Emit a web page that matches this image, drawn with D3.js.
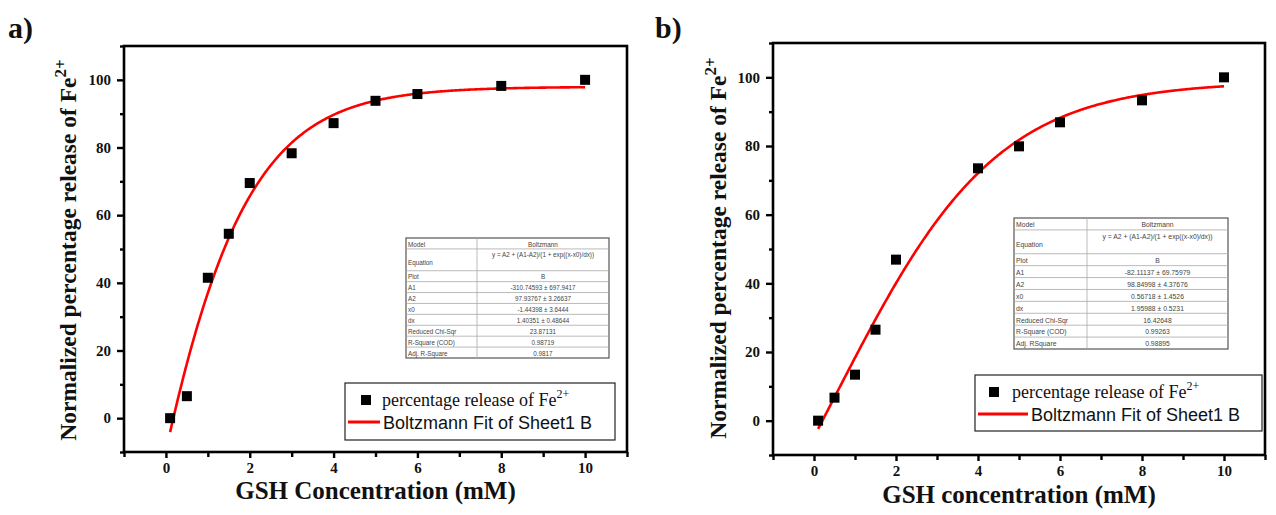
<!DOCTYPE html>
<html>
<head>
<meta charset="utf-8">
<script src="https://cdn.jsdelivr.net/npm/d3@7"></script>
<style>
  html, body { margin: 0; padding: 0; background: #fff; }
  svg { display: block; }
</style>
</head>
<body>
<svg id="chart" width="1276" height="515"></svg>
<script>
// ---- measured release data ----
const xA = [0.1, 0.5, 1, 1.5, 2, 3, 4, 5, 6, 8, 10];
const yA = [0, 6.5, 41.5, 54.5, 69.5, 78.3, 87.2, 93.8, 95.8, 98.2, 100];

const xB = [0.1, 0.5, 1, 1.5, 2, 4, 5, 6, 8, 10];
const yB = [0, 6.7, 13.4, 26.5, 46.9, 73.5, 79.9, 86.9, 93.3, 100];

// ---- Boltzmann fit parameters [A1, A2, x0, dx] and their errors ----
const fitA = [-310.74593, 97.93767, -1.44398, 1.40351];
const errA = ["697.9417", "3.26637", "3.6444", "0.48644"];
const statsA = ["23.87131", "0.98719", "0.9817"];

const fitB = [-82.11137, 98.84998, 0.56718, 1.95988];
const errB = ["69.75979", "4.37676", "1.4526", "0.5231"];
const statsB = ["16.42648", "0.99263", "0.98895"];

// ---- axis ticks ----
const xMajor = [0, 2, 4, 6, 8, 10];
const xMinor = [-1, 1, 3, 5, 7, 9, 11];
const yMajor = [0, 20, 40, 60, 80, 100];
const yMinor = [-10, 10, 30, 50, 70, 90, 110];

const svg = d3.select("#chart");
const serif = "'Liberation Serif', 'Times New Roman', serif";
const sans = "'Liberation Sans', Arial, sans-serif";

function boltzmann(p, x) {
  const [A1, A2, x0, dx] = p;
  return A2 + (A1 - A2) / (1 + Math.exp((x - x0) / dx));
}

function drawPanel(o) {
  const g = svg.append("g");
  const x = d3.scaleLinear().domain([-1, 11]).range([o.left, o.right]);
  const y = d3.scaleLinear().domain([-10, 110]).range([o.bottom, o.top]);

  // frame
  g.append("rect")
    .attr("x", o.left).attr("y", o.top)
    .attr("width", o.right - o.left).attr("height", o.bottom - o.top)
    .attr("fill", "none").attr("stroke", "#000").attr("stroke-width", 2.6);

  // x axis
  const xa = g.append("g").attr("transform", `translate(0,${o.bottom})`);
  xa.call(d3.axisBottom(x).tickValues(xMajor).tickSize(6).tickPadding(4).tickFormat(d3.format("d")));
  xa.append("g").call(d3.axisBottom(x).tickValues(xMinor).tickSize(5).tickFormat(""));
  xa.selectAll(".domain").remove();
  xa.selectAll("line").attr("stroke", "#000").attr("stroke-width", 2.4);
  xa.selectAll("text").attr("font-family", serif).attr("font-weight", "bold")
    .attr("font-size", 15).attr("fill", "#111");

  // y axis
  const ya = g.append("g").attr("transform", `translate(${o.left},0)`);
  ya.call(d3.axisLeft(y).tickValues(yMajor).tickSize(7).tickPadding(6).tickFormat(d3.format("d")));
  ya.append("g").call(d3.axisLeft(y).tickValues(yMinor).tickSize(4).tickFormat(""));
  ya.selectAll(".domain").remove();
  ya.selectAll("line").attr("stroke", "#000").attr("stroke-width", 2.4);
  ya.selectAll("text").attr("font-family", serif).attr("font-weight", "bold")
    .attr("font-size", 15).attr("fill", "#111");

  // fit curve
  const xs = d3.range(0, 401).map(i => o.xd[0] + (o.xd[o.xd.length - 1] - o.xd[0]) * i / 400);
  g.append("path")
    .datum(xs)
    .attr("fill", "none").attr("stroke", "#f00").attr("stroke-width", 2.6)
    .attr("d", d3.line().x(d => x(d)).y(d => y(boltzmann(o.fit, d))));

  // data points
  g.selectAll("rect.pt").data(o.xd.map((d, i) => [d, o.yd[i]])).enter()
    .append("rect").attr("class", "pt")
    .attr("x", d => x(d[0]) - 5).attr("y", d => y(d[1]) - 5)
    .attr("width", 10).attr("height", 10).attr("fill", "#000");

  // axis titles
  g.append("text")
    .attr("x", (o.left + o.right) / 2 + o.xTitleShift).attr("y", o.xTitleY)
    .attr("text-anchor", "middle").attr("font-family", serif).attr("font-weight", "bold")
    .attr("font-size", 25).attr("fill", "#111").text(o.xTitle);

  const yt = g.append("text")
    .attr("transform", `translate(${o.yTitleX},${o.yTitleY}) rotate(-90)`)
    .attr("text-anchor", "middle").attr("font-family", serif).attr("font-weight", "bold")
    .attr("font-size", 23.5).attr("fill", "#111");
  yt.append("tspan").text("Normalized percentage release of Fe");
  yt.append("tspan").attr("font-size", 17).attr("dy", -10).text("2+");

  // panel letter
  g.append("text").attr("x", o.letterX).attr("y", 38)
    .attr("font-family", serif).attr("font-weight", "bold").attr("font-size", 30)
    .attr("fill", "#111").text(o.letter);

  // legend
  const L = o.legend;
  g.append("rect").attr("x", L.x).attr("y", L.y).attr("width", L.w).attr("height", L.h)
    .attr("fill", "#fff").attr("stroke", "#222").attr("stroke-width", 1.2);
  g.append("rect").attr("x", L.mx - 5).attr("y", L.y + 12).attr("width", 10).attr("height", 10)
    .attr("fill", "#000");
  const t1 = g.append("text").attr("x", L.tx).attr("y", L.y + 23)
    .attr("font-family", serif).attr("font-size", 18).attr("fill", "#111");
  t1.append("tspan").text("percentage release of Fe");
  t1.append("tspan").attr("font-size", 12).attr("dy", -8).text("2+");
  g.append("line").attr("x1", L.x + 3).attr("x2", L.lx2).attr("y1", L.y + 39).attr("y2", L.y + 39)
    .attr("stroke", "#f00").attr("stroke-width", 3);
  g.append("text").attr("x", L.lx2 + 3).attr("y", L.y + 46)
    .attr("font-family", sans).attr("font-size", 18).attr("fill", "#111")
    .text("Boltzmann Fit of Sheet1 B");

  // fit results table
  const T = o.table;
  const fmt = v => (v < 0 ? "-" : "") + Math.abs(v).toFixed(5);
  const rows = [
    ["Model", "Boltzmann", 1],
    ["Equation", "y = A2 + (A1-A2)/(1 + exp((x-x0)/dx))", 2],
    ["Plot", "B", 1],
    ["A1", fmt(o.fit[0]) + " \u00b1 " + o.err[0], 1],
    ["A2", fmt(o.fit[1]) + " \u00b1 " + o.err[1], 1],
    ["x0", fmt(o.fit[2]) + " \u00b1 " + o.err[2], 1],
    ["dx", fmt(o.fit[3]) + " \u00b1 " + o.err[3], 1],
    ["Reduced Chi-Sqr", o.stats[0], 1],
    ["R-Square (COD)", o.stats[1], 1],
    [o.adjLabel, o.stats[2], 1]
  ];
  const unit = (T.y2 - T.y1) / 11;
  const tg = g.append("g");
  tg.append("rect").attr("x", T.x1).attr("y", T.y1).attr("width", T.x2 - T.x1).attr("height", T.y2 - T.y1)
    .attr("fill", "#fff").attr("stroke", "#555").attr("stroke-width", 1.2);
  tg.append("line").attr("x1", T.xs).attr("x2", T.xs).attr("y1", T.y1).attr("y2", T.y2)
    .attr("stroke", "#aaa").attr("stroke-width", 0.8);
  let cy = T.y1;
  rows.forEach((r, i) => {
    const h = unit * r[2];
    if (i > 0) {
      tg.append("line").attr("x1", T.x1).attr("x2", T.x2).attr("y1", cy).attr("y2", cy)
        .attr("stroke", "#aaa").attr("stroke-width", 0.8);
    }
    tg.append("text").attr("x", T.x1 + 2).attr("y", cy + (r[2] === 2 ? h * 0.72 : h * 0.78))
      .attr("font-family", sans).attr("font-size", T.fs).attr("fill", "#444").text(r[0]);
    tg.append("text").attr("x", (T.xs + T.x2) / 2).attr("y", cy + (r[2] === 2 ? unit * 0.78 : h * 0.78))
      .attr("text-anchor", "middle")
      .attr("font-family", sans).attr("font-size", T.fs).attr("fill", "#444").text(r[1]);
    cy += h;
  });
}

drawPanel({
  left: 124, right: 627, top: 46, bottom: 452,
  xd: xA, yd: yA, fit: fitA, err: errA, stats: statsA,
  xTitle: "GSH Concentration (mM)", xTitleShift: 0, xTitleY: 499,
  yTitleX: 76, yTitleY: 250,
  letter: "a)", letterX: 8,
  legend: { x: 345, y: 383, w: 270, h: 57, mx: 366, tx: 382, lx2: 380 },
  table: { x1: 406, x2: 609, xs: 477, y1: 238, y2: 358, fs: 6.3 },
  adjLabel: "Adj. R-Square"
});

drawPanel({
  left: 773, right: 1265, top: 43, bottom: 455,
  xd: xB, yd: yB, fit: fitB, err: errB, stats: statsB,
  xTitle: "GSH concentration (mM)", xTitleShift: 0, xTitleY: 503,
  yTitleX: 726, yTitleY: 248,
  letter: "b)", letterX: 655,
  legend: { x: 975, y: 375, w: 287, h: 56, mx: 994, tx: 1012, lx2: 1028 },
  table: { x1: 1014, x2: 1228, xs: 1087, y1: 218, y2: 349, fs: 6.8 },
  adjLabel: "Adj. RSquare"
});
</script>
</body>
</html>
